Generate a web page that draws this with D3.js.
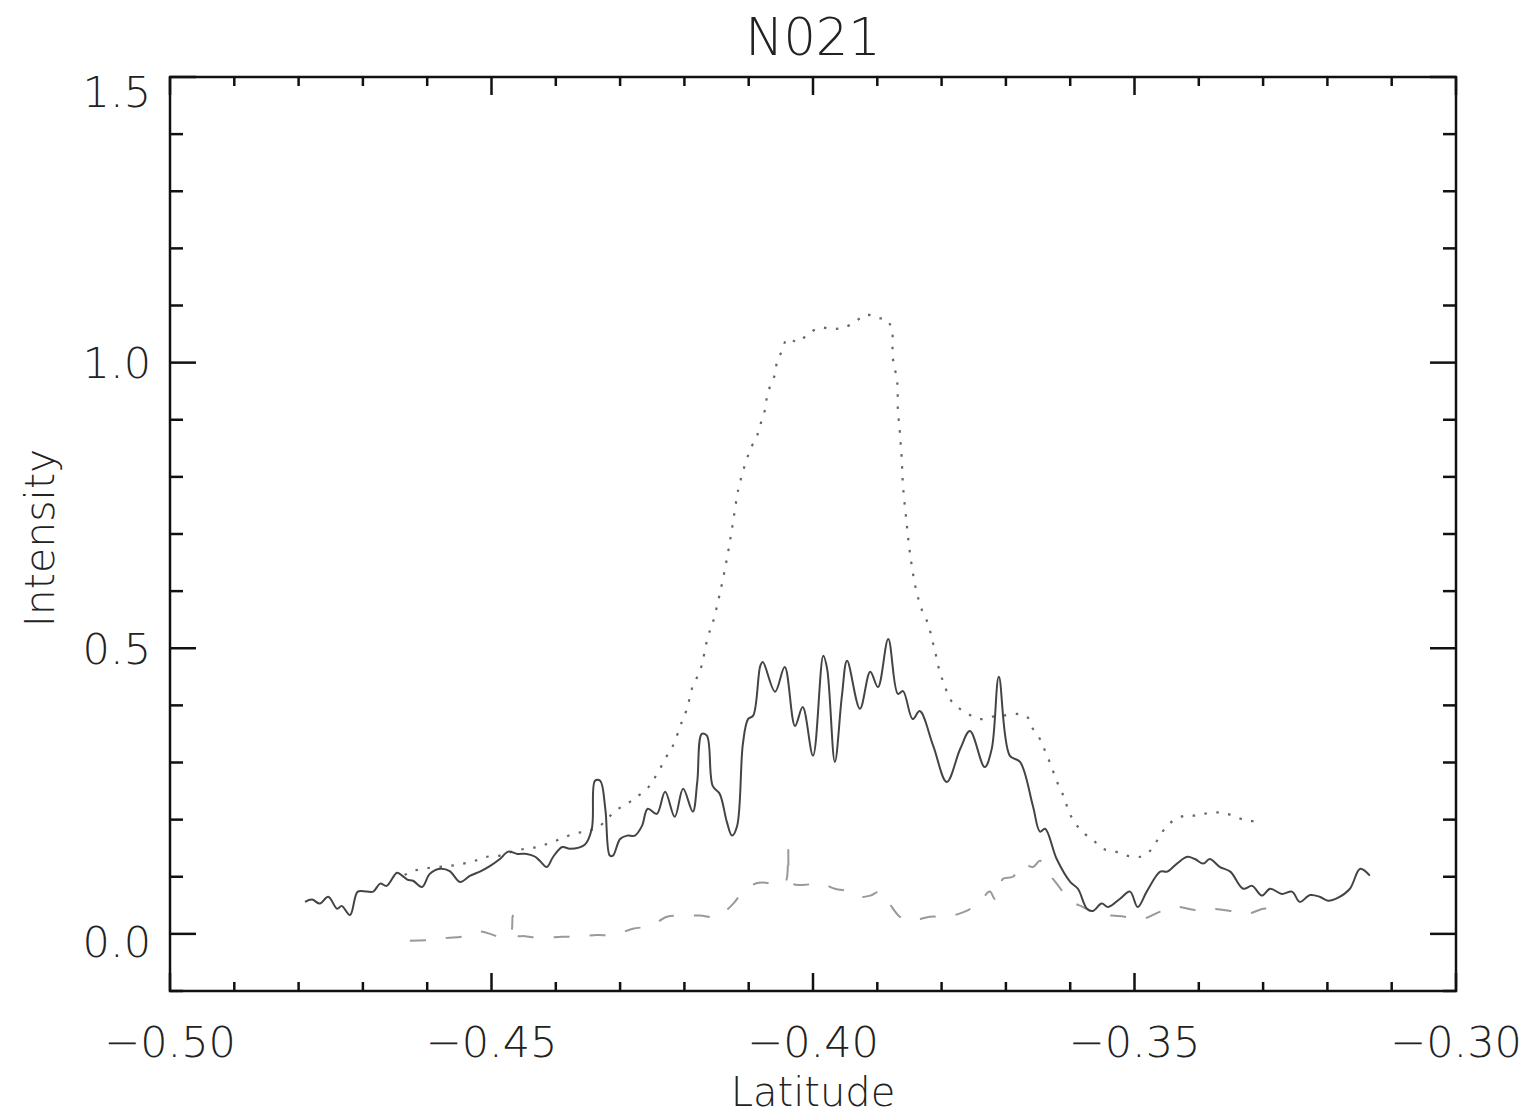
<!DOCTYPE html>
<html><head><meta charset="utf-8">
<script src="https://cdn.jsdelivr.net/npm/d3@7"></script>
<style>html,body{margin:0;padding:0;background:#fff;}svg{display:block;}text{font-family:"DejaVu Sans","Open Sans",sans-serif;font-weight:200;fill:#222;}</style>
</head><body><svg id="c" width="1531" height="1118"></svg>
<script>
const title = "N021";
const xLabel = "Latitude";
const yLabel = "Intensity";
const xTicks = [-0.50, -0.45, -0.40, -0.35, -0.30];
const xTickLabels = ["\u22120.50", "\u22120.45", "\u22120.40", "\u22120.35", "\u22120.30"];
const yTicks = [0.0, 0.5, 1.0, 1.5];
const yTickLabels = ["0.0", "0.5", "1.0", "1.5"];

// solid series
const solidLat = [-0.4790,-0.4779,-0.4767,-0.4754,-0.4740,-0.4733,-0.4720,-0.4708,-0.4694,-0.4684,-0.4673,-0.4663,-0.4647,-0.4639,-0.4631,-0.4622,-0.4608,-0.4596,-0.4580,-0.4565,-0.4549,-0.4533,-0.4518,-0.4502,-0.4487,-0.4474,-0.4460,-0.4445,-0.4432,-0.4425,-0.4414,-0.4404,-0.4390,-0.4378,-0.4355,-0.4344,-0.4339,-0.4331,-0.4323,-0.4316,-0.4311,-0.4300,-0.4289,-0.4277,-0.4266,-0.4257,-0.4243,-0.4230,-0.4215,-0.4202,-0.4187,-0.4180,-0.4173,-0.4165,-0.4156,-0.4145,-0.4134,-0.4126,-0.4118,-0.4109,-0.4101,-0.4093,-0.4082,-0.4078,-0.4059,-0.4044,-0.4028,-0.4016,-0.4000,-0.3984,-0.3978,-0.3966,-0.3955,-0.3947,-0.3927,-0.3911,-0.3899,-0.3883,-0.3868,-0.3860,-0.3845,-0.3834,-0.3813,-0.3792,-0.3771,-0.3756,-0.3733,-0.3722,-0.3711,-0.3694,-0.3678,-0.3658,-0.3647,-0.3639,-0.3621,-0.3600,-0.3588,-0.3574,-0.3565,-0.3551,-0.3541,-0.3523,-0.3507,-0.3495,-0.3481,-0.3460,-0.3449,-0.3434,-0.3418,-0.3406,-0.3393,-0.3383,-0.3367,-0.3351,-0.3331,-0.3317,-0.3302,-0.3289,-0.3271,-0.3255,-0.3243,-0.3227,-0.3212,-0.3199,-0.3184,-0.3165,-0.3149,-0.3134];
const solidVal = [0.056,0.060,0.053,0.065,0.044,0.049,0.033,0.074,0.074,0.074,0.088,0.084,0.107,0.102,0.095,0.093,0.082,0.105,0.114,0.110,0.091,0.102,0.109,0.119,0.131,0.144,0.140,0.140,0.135,0.128,0.117,0.135,0.152,0.149,0.156,0.184,0.268,0.268,0.219,0.137,0.137,0.166,0.172,0.172,0.189,0.219,0.210,0.249,0.205,0.254,0.214,0.266,0.350,0.347,0.259,0.245,0.196,0.172,0.189,0.333,0.376,0.382,0.469,0.476,0.424,0.467,0.364,0.397,0.312,0.487,0.464,0.301,0.417,0.478,0.394,0.459,0.432,0.516,0.420,0.425,0.376,0.390,0.329,0.266,0.324,0.355,0.292,0.324,0.450,0.312,0.301,0.224,0.179,0.184,0.131,0.091,0.079,0.044,0.040,0.053,0.047,0.061,0.074,0.047,0.074,0.109,0.109,0.123,0.135,0.131,0.123,0.131,0.117,0.109,0.079,0.084,0.067,0.079,0.070,0.074,0.056,0.068,0.065,0.058,0.063,0.079,0.114,0.102];

// dotted series
const dotLat = [-0.4635,-0.4624,-0.4607,-0.4585,-0.4565,-0.4544,-0.4526,-0.4507,-0.4487,-0.4467,-0.4448,-0.4429,-0.4412,-0.4393,-0.4373,-0.4351,-0.4334,-0.4320,-0.4308,-0.4289,-0.4274,-0.4258,-0.4249,-0.4238,-0.4227,-0.4218,-0.4204,-0.4196,-0.4187,-0.4176,-0.4171,-0.4163,-0.4156,-0.4145,-0.4134,-0.4126,-0.4118,-0.4115,-0.4103,-0.4095,-0.4087,-0.4082,-0.4075,-0.4072,-0.4067,-0.4059,-0.4056,-0.4048,-0.4040,-0.4023,-0.4008,-0.3989,-0.3970,-0.3953,-0.3935,-0.3918,-0.3900,-0.3885,-0.3877,-0.3876,-0.3869,-0.3868,-0.3865,-0.3862,-0.3860,-0.3855,-0.3849,-0.3840,-0.3830,-0.3821,-0.3815,-0.3810,-0.3803,-0.3795,-0.3787,-0.3775,-0.3759,-0.3740,-0.3722,-0.3705,-0.3683,-0.3667,-0.3658,-0.3647,-0.3639,-0.3631,-0.3624,-0.3616,-0.3608,-0.3603,-0.3593,-0.3582,-0.3566,-0.3549,-0.3530,-0.3512,-0.3491,-0.3476,-0.3465,-0.3453,-0.3440,-0.3421,-0.3403,-0.3383,-0.3364,-0.3347,-0.3325,-0.3305];
const dotVal = [0.103,0.109,0.114,0.117,0.119,0.123,0.128,0.135,0.137,0.144,0.149,0.152,0.158,0.166,0.175,0.180,0.187,0.201,0.215,0.228,0.240,0.254,0.268,0.289,0.312,0.329,0.371,0.394,0.434,0.459,0.481,0.522,0.544,0.595,0.656,0.709,0.767,0.784,0.831,0.854,0.872,0.891,0.916,0.937,0.958,0.980,1.001,1.021,1.042,1.036,1.050,1.061,1.059,1.061,1.071,1.084,1.078,1.075,1.054,1.010,0.966,0.919,0.879,0.831,0.784,0.726,0.665,0.604,0.565,0.543,0.516,0.494,0.459,0.434,0.411,0.397,0.385,0.376,0.380,0.382,0.385,0.380,0.359,0.341,0.320,0.298,0.277,0.254,0.236,0.215,0.196,0.179,0.166,0.149,0.144,0.137,0.135,0.145,0.163,0.184,0.198,0.207,0.207,0.212,0.212,0.207,0.198,0.198];

// dashed series
const dashLat = [-0.4627,-0.4599,-0.4569,-0.4546,-0.4518,-0.4502,-0.4491,-0.4471,-0.4467,-0.4462,-0.4448,-0.4425,-0.4390,-0.4367,-0.4336,-0.4311,-0.4280,-0.4253,-0.4227,-0.4207,-0.4176,-0.4149,-0.4124,-0.4109,-0.4087,-0.4067,-0.4044,-0.4039,-0.4033,-0.4012,-0.3989,-0.3966,-0.3942,-0.3927,-0.3911,-0.3896,-0.3883,-0.3865,-0.3849,-0.3818,-0.3792,-0.3764,-0.3743,-0.3725,-0.3717,-0.3709,-0.3705,-0.3689,-0.3675,-0.3658,-0.3647,-0.3636,-0.3621,-0.3600,-0.3580,-0.3558,-0.3535,-0.3515,-0.3488,-0.3460,-0.3434,-0.3406,-0.3383,-0.3351,-0.3325,-0.3300,-0.3289];
const dashVal = [-0.012,-0.011,-0.007,-0.005,0.004,0.000,-0.004,-0.002,0.032,-0.002,-0.004,-0.007,-0.005,-0.005,-0.002,-0.002,0.009,0.014,0.030,0.032,0.032,0.030,0.053,0.074,0.089,0.089,0.088,0.152,0.089,0.086,0.089,0.079,0.074,0.065,0.067,0.074,0.056,0.030,0.023,0.030,0.030,0.039,0.053,0.074,0.061,0.070,0.096,0.100,0.123,0.117,0.128,0.109,0.088,0.058,0.047,0.035,0.032,0.030,0.026,0.039,0.047,0.042,0.044,0.040,0.035,0.044,0.044];

const W = 1531, H = 1118;
const m = {left:170, right:1456, top:77, bottom:991};
const svg = d3.select("#c");
const x = d3.scaleLinear().domain([-0.5, -0.3]).range([m.left, m.right]);
const y = d3.scaleLinear().domain([-0.1, 1.5]).range([m.bottom, m.top]);

const axisColor = "#111";
const fs = 43;

// frame
svg.append("rect").attr("x", m.left).attr("y", m.top).attr("width", m.right-m.left).attr("height", m.bottom-m.top)
  .attr("fill","none").attr("stroke",axisColor).attr("stroke-width",2.5);

const xMinor = d3.range(0, 21).map(i => -0.5 + i*0.01);
const yMinor = d3.range(0, 17).map(i => -0.1 + i*0.1);
const isMajorX = v => xTicks.some(t => Math.abs(t - v) < 1e-9);
const isMajorY = v => yTicks.some(t => Math.abs(t - v) < 1e-9);

const g = svg.append("g").attr("stroke", axisColor).attr("stroke-width", 2.5);
xMinor.forEach(v => {
  const L = isMajorX(v) ? 18 : 9;
  const px = x(v);
  g.append("line").attr("x1",px).attr("x2",px).attr("y1",m.bottom).attr("y2",m.bottom-L);
  g.append("line").attr("x1",px).attr("x2",px).attr("y1",m.top).attr("y2",m.top+L);
});
yMinor.forEach(v => {
  const L = isMajorY(v) ? 26 : 13;
  const py = y(v);
  g.append("line").attr("x1",m.left).attr("x2",m.left+L).attr("y1",py).attr("y2",py);
  g.append("line").attr("x1",m.right).attr("x2",m.right-L).attr("y1",py).attr("y2",py);
});

xTicks.forEach((t,i) => {
  svg.append("text").attr("x", x(t)).attr("y", 1057).attr("text-anchor","middle").attr("font-size",fs).text(xTickLabels[i]);
});
const yLabelShift = [8, 0, 0, 15];
yTicks.forEach((t,i) => {
  svg.append("text").attr("x", 151).attr("y", y(t) + yLabelShift[i]).attr("dy","0.36em").attr("text-anchor","end").attr("font-size",fs).text(yTickLabels[i]);
});

svg.append("text").attr("x", (m.left+m.right)/2).attr("y", 55).attr("text-anchor","middle").attr("font-size",51).text(title);
svg.append("text").attr("x", (m.left+m.right)/2).attr("y", 1106).attr("text-anchor","middle").attr("font-size",40).text(xLabel);
svg.append("text").attr("transform", `translate(54,${(m.top+m.bottom)/2+4}) rotate(-90)`).attr("text-anchor","middle").attr("font-size",41).text(yLabel);

const line = d3.line().x(d => x(d[0])).y(d => y(d[1])).curve(d3.curveCatmullRom.alpha(0.5));
const zip = (a,b) => a.map((v,i) => [v, b[i]]);

const plot = svg.append("g");
plot.append("path").datum(zip(dashLat, dashVal)).attr("d", line).attr("fill","none")
  .attr("stroke","#999").attr("stroke-width",2).attr("stroke-dasharray","16,20");
plot.append("path").datum(zip(dotLat, dotVal)).attr("d", line).attr("fill","none")
  .attr("stroke","#666").attr("stroke-width",2.2).attr("stroke-dasharray","2.5,9.5");
plot.append("path").datum(zip(solidLat, solidVal)).attr("d", line).attr("fill","none")
  .attr("stroke","#444").attr("stroke-width",2);
</script></body></html>
